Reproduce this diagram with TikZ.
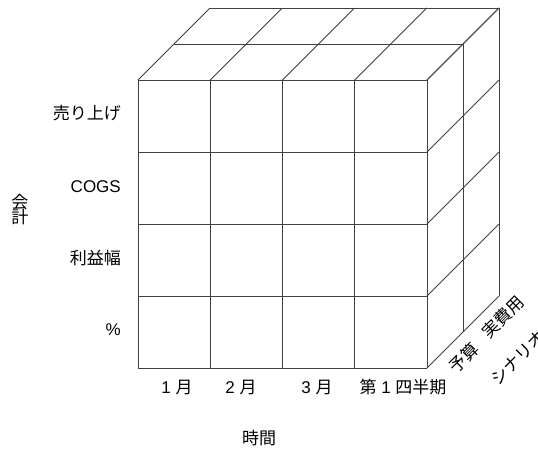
\documentclass[tikz,border=0pt]{standalone}
\usepackage{fontspec}
\setmainfont{Liberation Sans}
\newfontfamily\cjk{Noto Sans CJK JP}
\begin{document}
\begin{tikzpicture}[x=1pt,y=-1pt,
  grid/.style={draw=black!75,line width=0.9pt,line join=round},
  lbl/.style={font=\fontsize{17}{19}\selectfont,inner sep=0pt},
  rlbl/.style={lbl,anchor=east}]
\useasboundingbox (0,0) rectangle (538,448);
\def\W{72.25}\def\H{72}\def\D{36}
% front face
\foreach \i in {0,...,4} {
  \draw[grid] ({138+\i*\W},80) -- ({138+\i*\W},368);
  \draw[grid] ({138+\i*\W},80) -- ({138+\i*\W+2*\D},{80-2*\D});
}
\foreach \j in {0,...,4} {
  \draw[grid] (138,{80+\j*\H}) -- (427,{80+\j*\H});
  \draw[grid] (427,{80+\j*\H}) -- ({427+2*\D},{80+\j*\H-2*\D});
}
\foreach \k in {1,2} {
  \draw[grid] ({138+\k*\D},{80-\k*\D}) -- ({427+\k*\D},{80-\k*\D});
  \draw[grid] ({427+\k*\D},{80-\k*\D}) -- ({427+\k*\D},{368-\k*\D});
}
% row labels
\node[rlbl] (r1) at (121,113) {\cjk 売り上げ};
\node[rlbl] (r2) at (121,187) {COGS};
\node[rlbl] (r3) at (121,258) {\cjk 利益幅};
\node[rlbl] (r4) at (121,330) {\%};
\node[lbl,align=center] (acc) at (20,210) {\cjk 会\\[-4pt]\cjk 計};
% column labels
\node[lbl] (c1) at (177,387) {1 {\cjk 月}};
\node[lbl] (c2) at (241,387) {2 {\cjk 月}};
\node[lbl] (c3) at (317,387) {3 {\cjk 月}};
\node[lbl] (c4) at (403,387) {{\cjk 第} 1 {\cjk 四半期}};
\node[lbl] (time) at (259,438) {\cjk 時間};
% depth labels
\node[lbl,rotate=45] (d1) at (464,358) {\cjk 予算};
\node[lbl,rotate=45] (d2) at (503,317) {\cjk 実費用};
\node[lbl,rotate=45] (d3) at (518,358) {\cjk シナリオ};
\end{tikzpicture}
\end{document}
